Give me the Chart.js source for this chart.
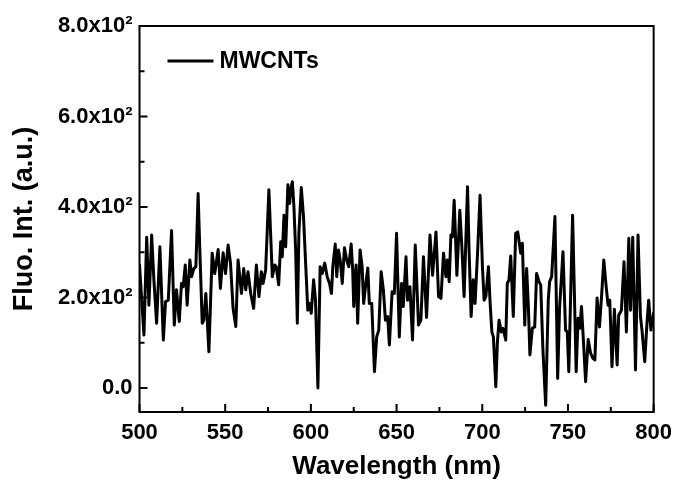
<!DOCTYPE html>
<html lang="en">
<head>
<meta charset="UTF-8">
<title>MWCNTs fluorescence</title>
<script src="https://cdn.jsdelivr.net/npm/chart.js"></script>
<style>
  body { margin: 0; background: #fff; }
  canvas { display: block; }
</style>
</head>
<body>
<canvas id="fluoChart" width="680" height="488"></canvas>
<script>
// wavelength (nm) and fluorescence intensity
const wavelengths = [
  500, 502.6, 504.2, 505.5, 507.1, 508.4, 510, 511.9, 513.9, 515.2, 516.8, 518.7, 520.3, 521.6, 523.2, 524.5,
  525.5, 526.7, 527.8, 529.4, 530.4, 531.7, 532.9, 534.2, 535.2, 536.6, 537.5, 538.7, 540.5, 542.4, 543.9, 545.9,
  547.2, 548.8, 550.2, 551.7, 553.1, 554.6, 556.2, 557.5, 559.5, 560.8, 562, 563.3, 564.9, 566.6, 568.2, 569.7,
  571.1, 572.1, 573.6, 575.5, 577.5, 578.9, 579.8, 581.2, 582.4, 583.3, 584.3, 585.3, 586.6, 587.6, 588.2, 589.2,
  590.1, 591.1, 592.1, 593, 594.4, 595.7, 597.3, 598.2, 599.2, 600.2, 601.6, 602.7, 604.1, 605.4, 606.6, 608.1,
  609.5, 610.9, 612, 612.8, 614.2, 615.1, 616.1, 617.1, 618.3, 619.6, 620.9, 622.1, 623.5, 624.4, 625, 626.4,
  627.3, 628.7, 629.9, 630.8, 632.2, 633.2, 634.1, 635.5, 637.1, 638.4, 639.6, 641, 642.3, 643.5, 644.8, 645.8,
  647.4, 648.7, 650, 651.6, 652.9, 653.9, 655.5, 656.4, 657.8, 659.3, 660.9, 662.8, 664.2, 665.7, 667.5, 669.5,
  671, 673, 674.5, 675.9, 677.4, 678.8, 679.7, 680.7, 681.7, 682.6, 683.6, 685.2, 686.9, 688.1, 689.4, 691.4,
  692.3, 693.5, 694.7, 695.8, 697.2, 698.7, 700.1, 701.1, 702.1, 703.6, 704.6, 705.6, 706.5, 707.9, 708.8, 709.8,
  711.1, 712.1, 713.7, 714.6, 715.6, 716.6, 718.1, 719.5, 720.7, 722.4, 723.4, 724.8, 725.9, 726.9, 727.8, 729.2,
  730.6, 731.7, 733.1, 734.1, 735.4, 737, 738.5, 739.3, 740.5, 742.4, 744, 745.1, 747.1, 748.6, 749.6, 750.5,
  752.7, 754.8, 755.9, 756.9, 757.9, 758.9, 760.3, 761.8, 763.2, 764.5, 765.7, 767, 768.4, 769.6, 770.9, 772.3,
  773.4, 774.4, 775.7, 777.1, 778.7, 779.6, 781.2, 782.7, 784.1, 785.5, 786.5, 787.8, 789.4, 790.9, 792.3, 793.2,
  794.8, 796.1, 797.1, 798.4, 800
];
const intensities = [
  272, 117, 333, 183, 338, 239, 143, 312, 106, 191, 194, 348, 139, 217, 147, 231,
  224, 272, 183, 283, 246, 264, 268, 430, 305, 143, 150, 209, 80, 298, 253, 306,
  220, 299, 253, 316, 276, 176, 136, 283, 209, 264, 217, 257, 209, 176, 272, 202,
  257, 231, 261, 438, 246, 272, 268, 228, 323, 290, 382, 312, 449, 408, 438, 456,
  401, 305, 143, 342, 443, 379, 246, 172, 187, 165, 239, 194, 0, 268, 253, 276,
  246, 231, 209, 268, 318, 246, 305, 283, 231, 310, 283, 268, 318, 261, 180, 272,
  143, 305, 268, 187, 235, 265, 187, 187, 36, 113, 128, 257, 217, 150, 158, 95,
  213, 209, 342, 113, 231, 180, 290, 194, 224, 106, 316, 139, 150, 290, 156, 338,
  249, 345, 202, 198, 298, 246, 283, 235, 338, 334, 415, 249, 393, 312, 202, 445,
  305, 158, 239, 187, 294, 426, 268, 194, 202, 268, 187, 124, 113, 3, 99, 150,
  124, 132, 106, 231, 239, 292, 158, 342, 345, 298, 320, 139, 264, 180, 73, 132,
  135, 253, 235, 228, 84, -38, 194, 235, 246, 379, 21, 176, 301, 128, 124, 36,
  382, 36, 154, 132, 180, 113, 14, 107, 77, 66, 62, 199, 135, 202, 283, 224,
  183, 194, 47, 174, 51, 161, 172, 279, 124, 331, 172, 333, 40, 338, 158, 128,
  58, 143, 194, 128, 166
];

const seriesLabel = 'MWCNTs';
const xTickValues = [500, 550, 600, 650, 700, 750, 800];
const xMinorTicks = [525, 575, 625, 675, 725, 775];
const yTickValues = [0, 200, 400, 600, 800];
const yTickLabels = ['0.0', '2.0x10²', '4.0x10²', '6.0x10²', '8.0x10²'];
const yMinorTicks = [100, 300, 500, 700];

const fontFamily = '"Liberation Sans", Arial, sans-serif';

// frame, inward ticks and the legend
const framePlugin = {
  id: 'frameTicks',
  afterDraw(chart) {
    const ctx = chart.ctx;
    const area = chart.chartArea;
    const xs = chart.scales.x;
    const ys = chart.scales.y;
    ctx.save();
    ctx.strokeStyle = '#000';
    ctx.lineWidth = 2;
    ctx.strokeRect(area.left, area.top, area.right - area.left, area.bottom - area.top);

    ctx.beginPath();
    xTickValues.forEach(v => {
      const px = xs.getPixelForValue(v);
      ctx.moveTo(px, area.bottom);
      ctx.lineTo(px, area.bottom - 8);
    });
    xMinorTicks.forEach(v => {
      const px = xs.getPixelForValue(v);
      ctx.moveTo(px, area.bottom);
      ctx.lineTo(px, area.bottom - 5);
    });
    yTickValues.forEach(v => {
      const py = ys.getPixelForValue(v);
      ctx.moveTo(area.left, py);
      ctx.lineTo(area.left + 8, py);
    });
    yMinorTicks.forEach(v => {
      const py = ys.getPixelForValue(v);
      ctx.moveTo(area.left, py);
      ctx.lineTo(area.left + 5, py);
    });
    ctx.stroke();

    // legend
    const ly = area.top + 35;
    const lx = area.left + 28;
    ctx.lineWidth = 2.8;
    ctx.beginPath();
    ctx.moveTo(lx, ly);
    ctx.lineTo(lx + 46, ly);
    ctx.stroke();
    ctx.fillStyle = '#000';
    ctx.font = 'bold 23px ' + fontFamily;
    ctx.textBaseline = 'middle';
    ctx.fillText(seriesLabel, lx + 52, ly + 1);
    ctx.restore();
  }
};

new Chart(document.getElementById('fluoChart'), {
  type: 'line',
  data: {
    datasets: [{
      label: seriesLabel,
      data: wavelengths.map((w, i) => ({ x: w, y: intensities[i] })),
      borderColor: '#000',
      borderWidth: 3,
      borderJoinStyle: 'round',
      borderCapStyle: 'round',
      pointRadius: 0,
      tension: 0,
      fill: false
    }]
  },
  options: {
    responsive: false,
    animation: false,
    layout: { padding: { left: 0, top: 26, right: 21, bottom: 0 } },
    plugins: {
      legend: { display: false },
      tooltip: { enabled: false }
    },
    scales: {
      x: {
        type: 'linear',
        min: 500,
        max: 800,
        afterBuildTicks: s => { s.ticks = xTickValues.map(v => ({ value: v })); },
        afterFit: s => { s.height = 76; },
        grid: { display: false, drawTicks: false },
        border: { display: false },
        ticks: {
          padding: 8,
          color: '#000',
          font: { family: fontFamily, size: 22, weight: 'bold' },
          maxRotation: 0
        },
        title: {
          display: true,
          text: 'Wavelength (nm)',
          color: '#000',
          font: { family: fontFamily, size: 26, weight: 'bold' },
          padding: { top: 0, bottom: 6 }
        }
      },
      y: {
        type: 'linear',
        min: -53,
        max: 800,
        afterBuildTicks: s => { s.ticks = yTickValues.map(v => ({ value: v })); },
        afterFit: s => { s.width = 139.5; },
        grid: { display: false, drawTicks: false },
        border: { display: false },
        ticks: {
          padding: 7,
          color: '#000',
          font: { family: fontFamily, size: 22, weight: 'bold' },
          callback: (value) => {
            const i = yTickValues.indexOf(value);
            return i >= 0 ? yTickLabels[i] : '';
          }
        },
        title: {
          display: true,
          text: 'Fluo. Int. (a.u.)',
          color: '#000',
          font: { family: fontFamily, size: 27, weight: 'bold' },
          padding: { top: 8, bottom: 0 }
        }
      }
    }
  },
  plugins: [framePlugin]
});
</script>
</body>
</html>
